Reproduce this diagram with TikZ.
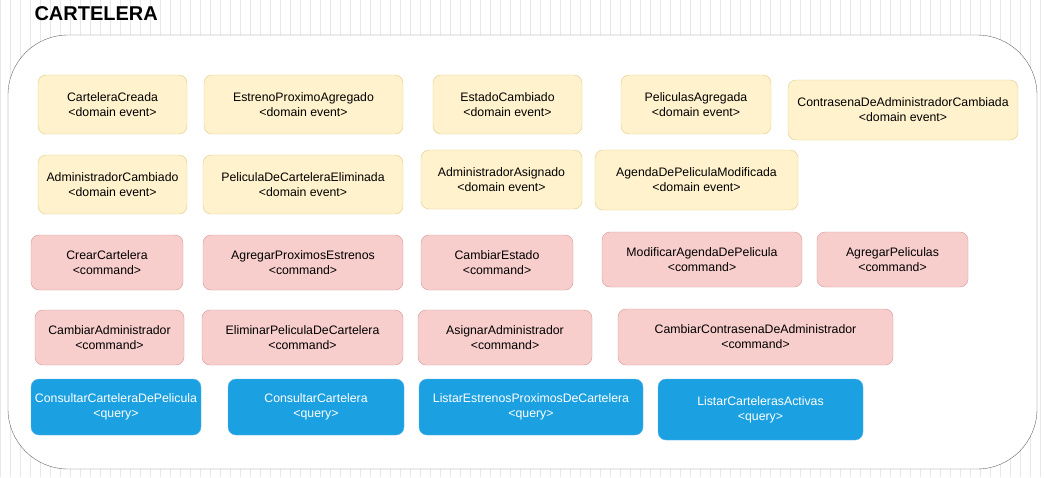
\documentclass[tikz,border=0pt]{standalone}
\usepackage{fontspec}
\setmainfont{Liberation Sans}
\usepackage{xcolor}
\definecolor{eventofill}{HTML}{FFF2CC}
\definecolor{eventoline}{HTML}{D6B656}
\definecolor{comandofill}{HTML}{F8CECC}
\definecolor{comandoline}{HTML}{B85450}
\definecolor{consultafill}{HTML}{1BA1E2}
\definecolor{consultaline}{HTML}{64B5E8}

\begin{document}
\begin{tikzpicture}[x=1pt,y=-1pt,
  caja/.style={rounded corners=8,align=center,inner sep=0pt,
    font=\fontsize{12.3}{15}\selectfont},
  evento/.style={caja,fill=eventofill,draw=eventoline!70},
  comando/.style={caja,fill=comandofill,draw=comandoline!60},
  consulta/.style={caja,fill=consultafill,draw=consultaline,text=white}]
\useasboundingbox (0,0) rectangle (1044,477);
% fondo con rejilla
\fill[white] (0,0) rectangle (1044,477);
\draw[black!9,step=10] (0,0) grid (1044,477);
\draw[black!60,fill=white,rounded corners=60] (8,35) rectangle (1037,469);
\node[anchor=west,font=\bfseries\fontsize{20}{24}\selectfont] (titulo) at (31,14) {CARTELERA};

% eventos de dominio
\node[evento,minimum width=149,minimum height=59] (creada) at (112.5,104.5) {CarteleraCreada\\<domain event>};
\node[evento,minimum width=199,minimum height=59] (estreno) at (303.5,104.5) {EstrenoProximoAgregado\\<domain event>};
\node[evento,minimum width=149,minimum height=59] (estado) at (507.5,104.5) {EstadoCambiado\\<domain event>};
\node[evento,minimum width=150,minimum height=59] (peliculas) at (696,104.5) {PeliculasAgregada\\<domain event>};
\node[evento,minimum width=230,minimum height=60] (contrasena) at (903,110) {ContrasenaDeAdministradorCambiada\\<domain event>};
\node[evento,minimum width=149,minimum height=59] (admincambiado) at (112.5,184.5) {AdministradorCambiado\\<domain event>};
\node[evento,minimum width=200,minimum height=59] (eliminada) at (303,184.5) {PeliculaDeCarteleraEliminada\\<domain event>};
\node[evento,minimum width=161,minimum height=59] (asignado) at (501.5,179.5) {AdministradorAsignado\\<domain event>};
\node[evento,minimum width=203,minimum height=60] (agenda) at (696.5,180) {AgendaDePeliculaModificada\\<domain event>};

% comandos
\node[comando,minimum width=152,minimum height=55] (crear) at (107,262.5) {CrearCartelera\\<command>};
\node[comando,minimum width=200,minimum height=55] (agregarestrenos) at (303,262.5) {AgregarProximosEstrenos\\<command>};
\node[comando,minimum width=152,minimum height=55] (cambiarestado) at (497,262.5) {CambiarEstado\\<command>};
\node[comando,minimum width=200,minimum height=55] (modificaragenda) at (702,259.5) {ModificarAgendaDePelicula\\<command>};
\node[comando,minimum width=151,minimum height=55] (agregarpeliculas) at (892.5,259.5) {AgregarPeliculas\\<command>};
\node[comando,minimum width=149,minimum height=55] (cambiaradmin) at (109.5,337.5) {CambiarAdministrador\\<command>};
\node[comando,minimum width=201,minimum height=55] (eliminar) at (302.5,337.5) {EliminarPeliculaDeCartelera\\<command>};
\node[comando,minimum width=174,minimum height=55] (asignar) at (505,337.5) {AsignarAdministrador\\<command>};
\node[comando,minimum width=275,minimum height=56] (cambiarcontrasena) at (755.5,337) {CambiarContrasenaDeAdministrador\\<command>};

% consultas
\node[consulta,minimum width=170,minimum height=56] (consultarpelicula) at (116,407) {ConsultarCarteleraDePelicula\\<query>};
\node[consulta,minimum width=176,minimum height=56] (consultar) at (316,407) {ConsultarCartelera\\<query>};
\node[consulta,minimum width=224,minimum height=56] (listarestrenos) at (531,407) {ListarEstrenosProximosDeCartelera\\<query>};
\node[consulta,minimum width=205,minimum height=61] (listaractivas) at (760.5,409.5) {ListarCartelerasActivas\\<query>};
\end{tikzpicture}
\end{document}
